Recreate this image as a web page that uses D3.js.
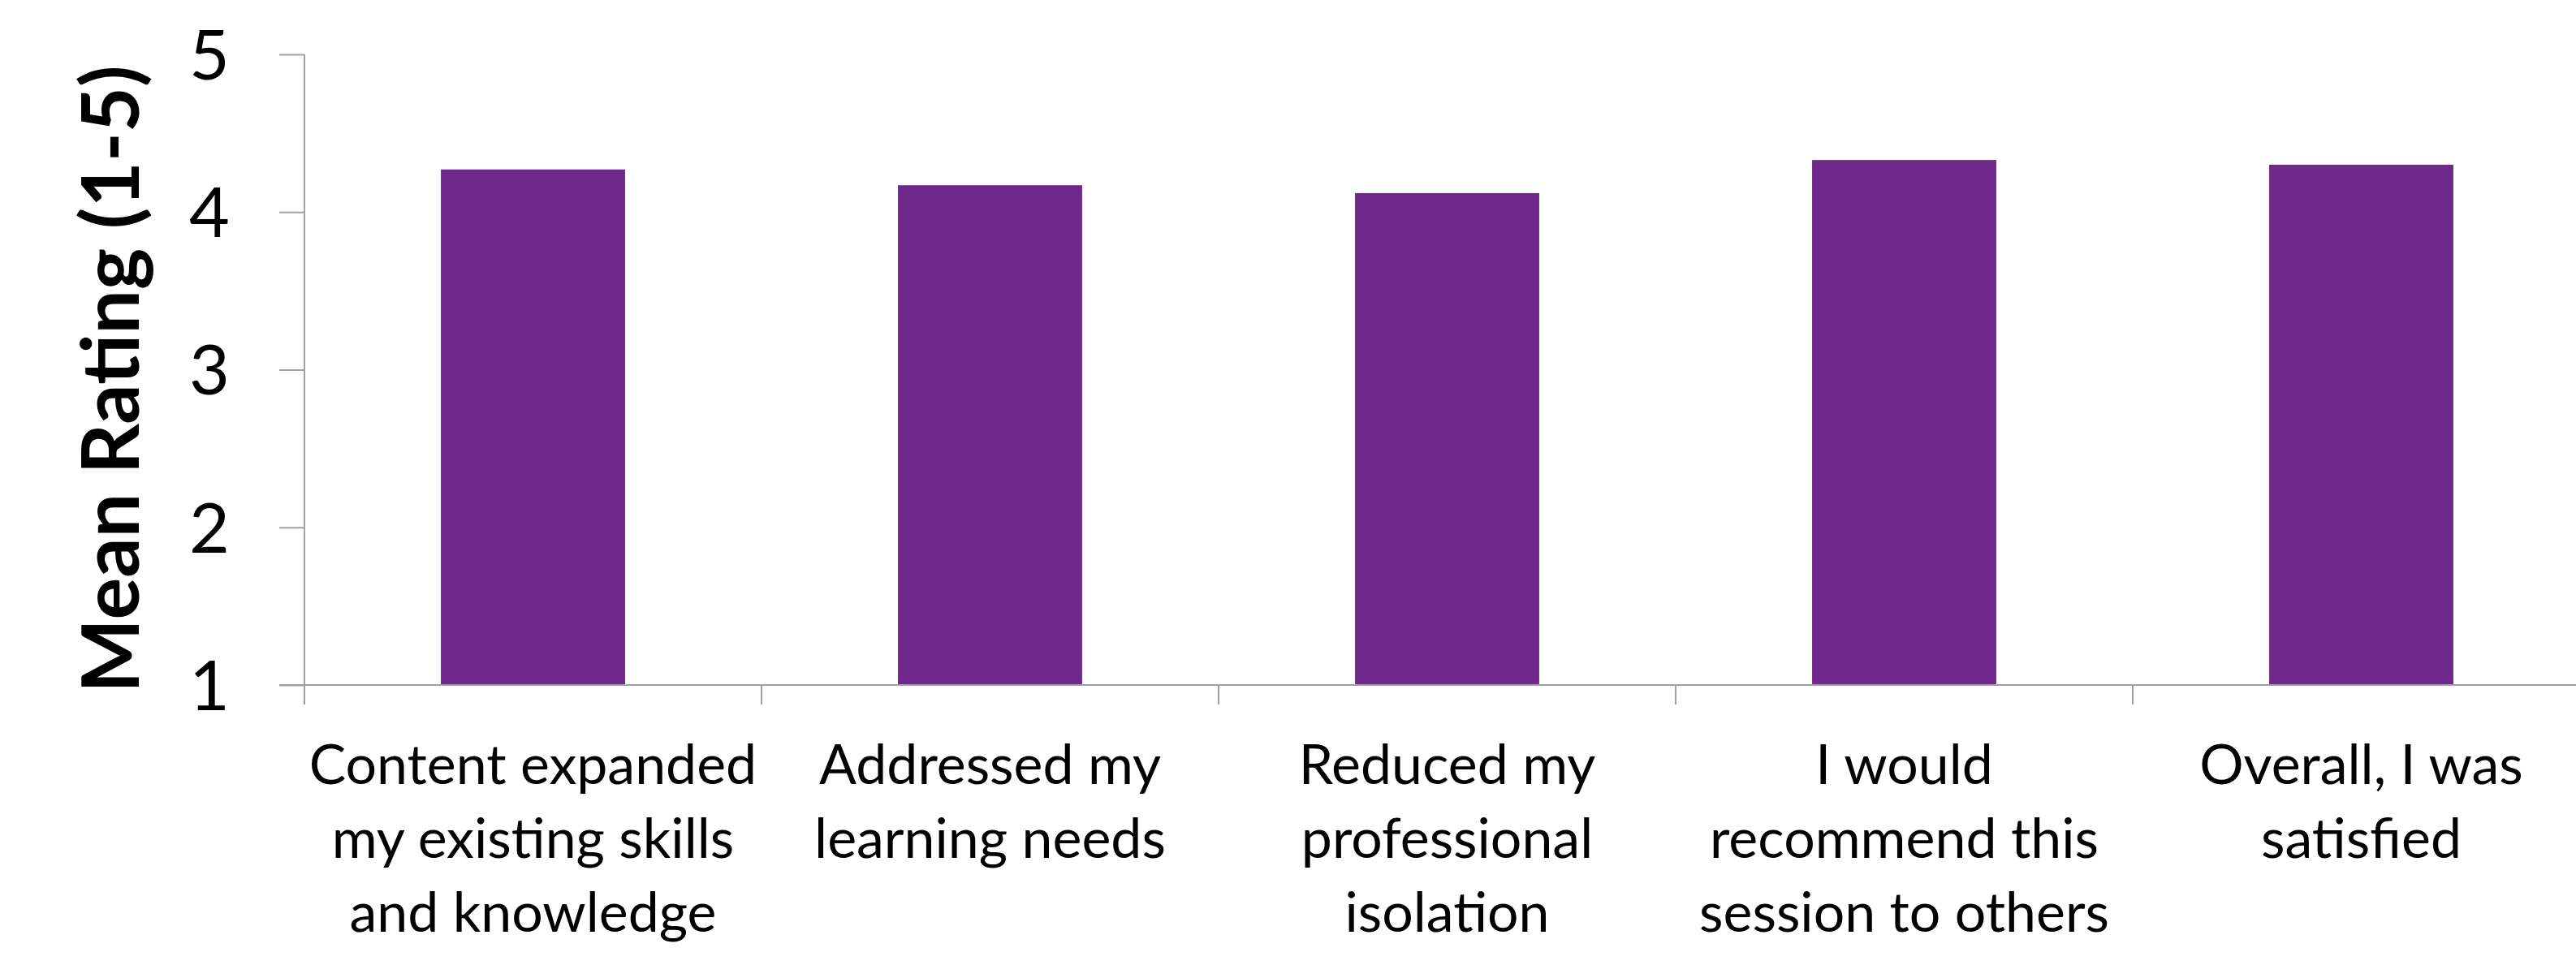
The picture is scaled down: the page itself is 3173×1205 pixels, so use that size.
<!DOCTYPE html>
<html>
<head>
<meta charset="utf-8">
<script src="https://cdn.jsdelivr.net/npm/d3@7"></script>
<style>
  html, body { margin: 0; padding: 0; background: #fff; }
  svg { display: block; }
</style>
</head>
<body>
<script>
const categories = [
  "Content expanded my existing skills and knowledge",
  "Addressed my learning needs",
  "Reduced my professional isolation",
  "I would recommend this session to others",
  "Overall, I was satisfied"
];
const categoryLines = [
  ["Content expanded", "my existing skills", "and knowledge"],
  ["Addressed my", "learning needs"],
  ["Reduced my", "professional", "isolation"],
  ["I would", "recommend this", "session to others"],
  ["Overall, I was", "satisfied"]
];
const meanRatings = [4.27, 4.17, 4.12, 4.33, 4.30];
const yTicks = [1, 2, 3, 4, 5];
const yTitle = "Mean Rating (1-5)";

(function () {
const W = 3173, H = 1205;
const plotLeft = 375, plotRight = 3190, plotTop = 67, plotBottom = 844;
const barColor = "#6E298B";
const axisColor = "#A0A0A0";

const svg = d3.select("body").append("svg")
  .attr("width", W).attr("height", H)
  .attr("viewBox", `0 0 ${W} ${H}`);

const x = d3.scaleBand().domain(categories).range([plotLeft, plotRight])
  .paddingInner(0.597).paddingOuter(0.597 / 2);
const y = d3.scaleLinear().domain([1, 5]).range([plotBottom, plotTop]);

// bars
svg.append("g").selectAll("rect").data(meanRatings).join("rect")
  .attr("x", (d, i) => x(categories[i]))
  .attr("width", x.bandwidth())
  .attr("y", d => y(d))
  .attr("height", d => y(1) - y(d))
  .attr("fill", barColor);

// y axis
const yAxis = d3.axisLeft(y).tickValues(yTicks).tickSize(31).tickPadding(0).tickFormat(d3.format("d"));
const gy = svg.append("g").attr("transform", `translate(${plotLeft},0)`).call(yAxis);
gy.select(".domain").remove();
gy.selectAll(".tick line").attr("stroke", axisColor).attr("stroke-width", 2);
gy.selectAll(".tick text").remove();
gy.append("line").attr("x1", 0).attr("x2", 0).attr("y1", plotTop).attr("y2", plotBottom + 24)
  .attr("stroke", axisColor).attr("stroke-width", 2);

// y tick labels
svg.append("g").selectAll("text").data(yTicks).join("text")
  .attr("x", 283)
  .attr("y", d => y(d))
  .attr("dy", "0.36em")
  .attr("text-anchor", "end")
  .attr("font-family", "Lato, 'Open Sans', sans-serif")
  .attr("font-size", 86)
  .attr("fill", "#000")
  .text(d => d);

// x axis line
svg.append("line").attr("x1", plotLeft - 31).attr("x2", W).attr("y1", plotBottom).attr("y2", plotBottom)
  .attr("stroke", axisColor).attr("stroke-width", 2);

// category boundary ticks
const step = x.step();
const boundaries = categories.map(c => x(c) - x.paddingInner() * step / 2);
svg.append("g").selectAll("line").data(boundaries.slice(1)).join("line")
  .attr("x1", d => d).attr("x2", d => d)
  .attr("y1", plotBottom).attr("y2", plotBottom + 24)
  .attr("stroke", axisColor).attr("stroke-width", 2);

// category labels
const lineGap = 91;
const gx = svg.append("g");
categoryLines.forEach((lines, i) => {
  const cx = x(categories[i]) + x.bandwidth() / 2;
  const t = gx.append("text")
    .attr("text-anchor", "middle")
    .attr("font-family", "Lato, 'Open Sans', sans-serif")
    .attr("font-size", 68)
    .attr("fill", "#000");
  lines.forEach((ln, j) => {
    t.append("tspan").attr("x", cx).attr("y", 966 + j * lineGap).text(ln);
  });
});

// y title
svg.append("text")
  .attr("transform", `translate(171, 467) rotate(-90)`)
  .attr("text-anchor", "middle")
  .attr("font-family", "Lato, 'Open Sans', sans-serif")
  .attr("font-weight", "bold")
  .attr("font-size", 97)
  .attr("fill", "#000")
  .text(yTitle);
})();
</script>
</body>
</html>
